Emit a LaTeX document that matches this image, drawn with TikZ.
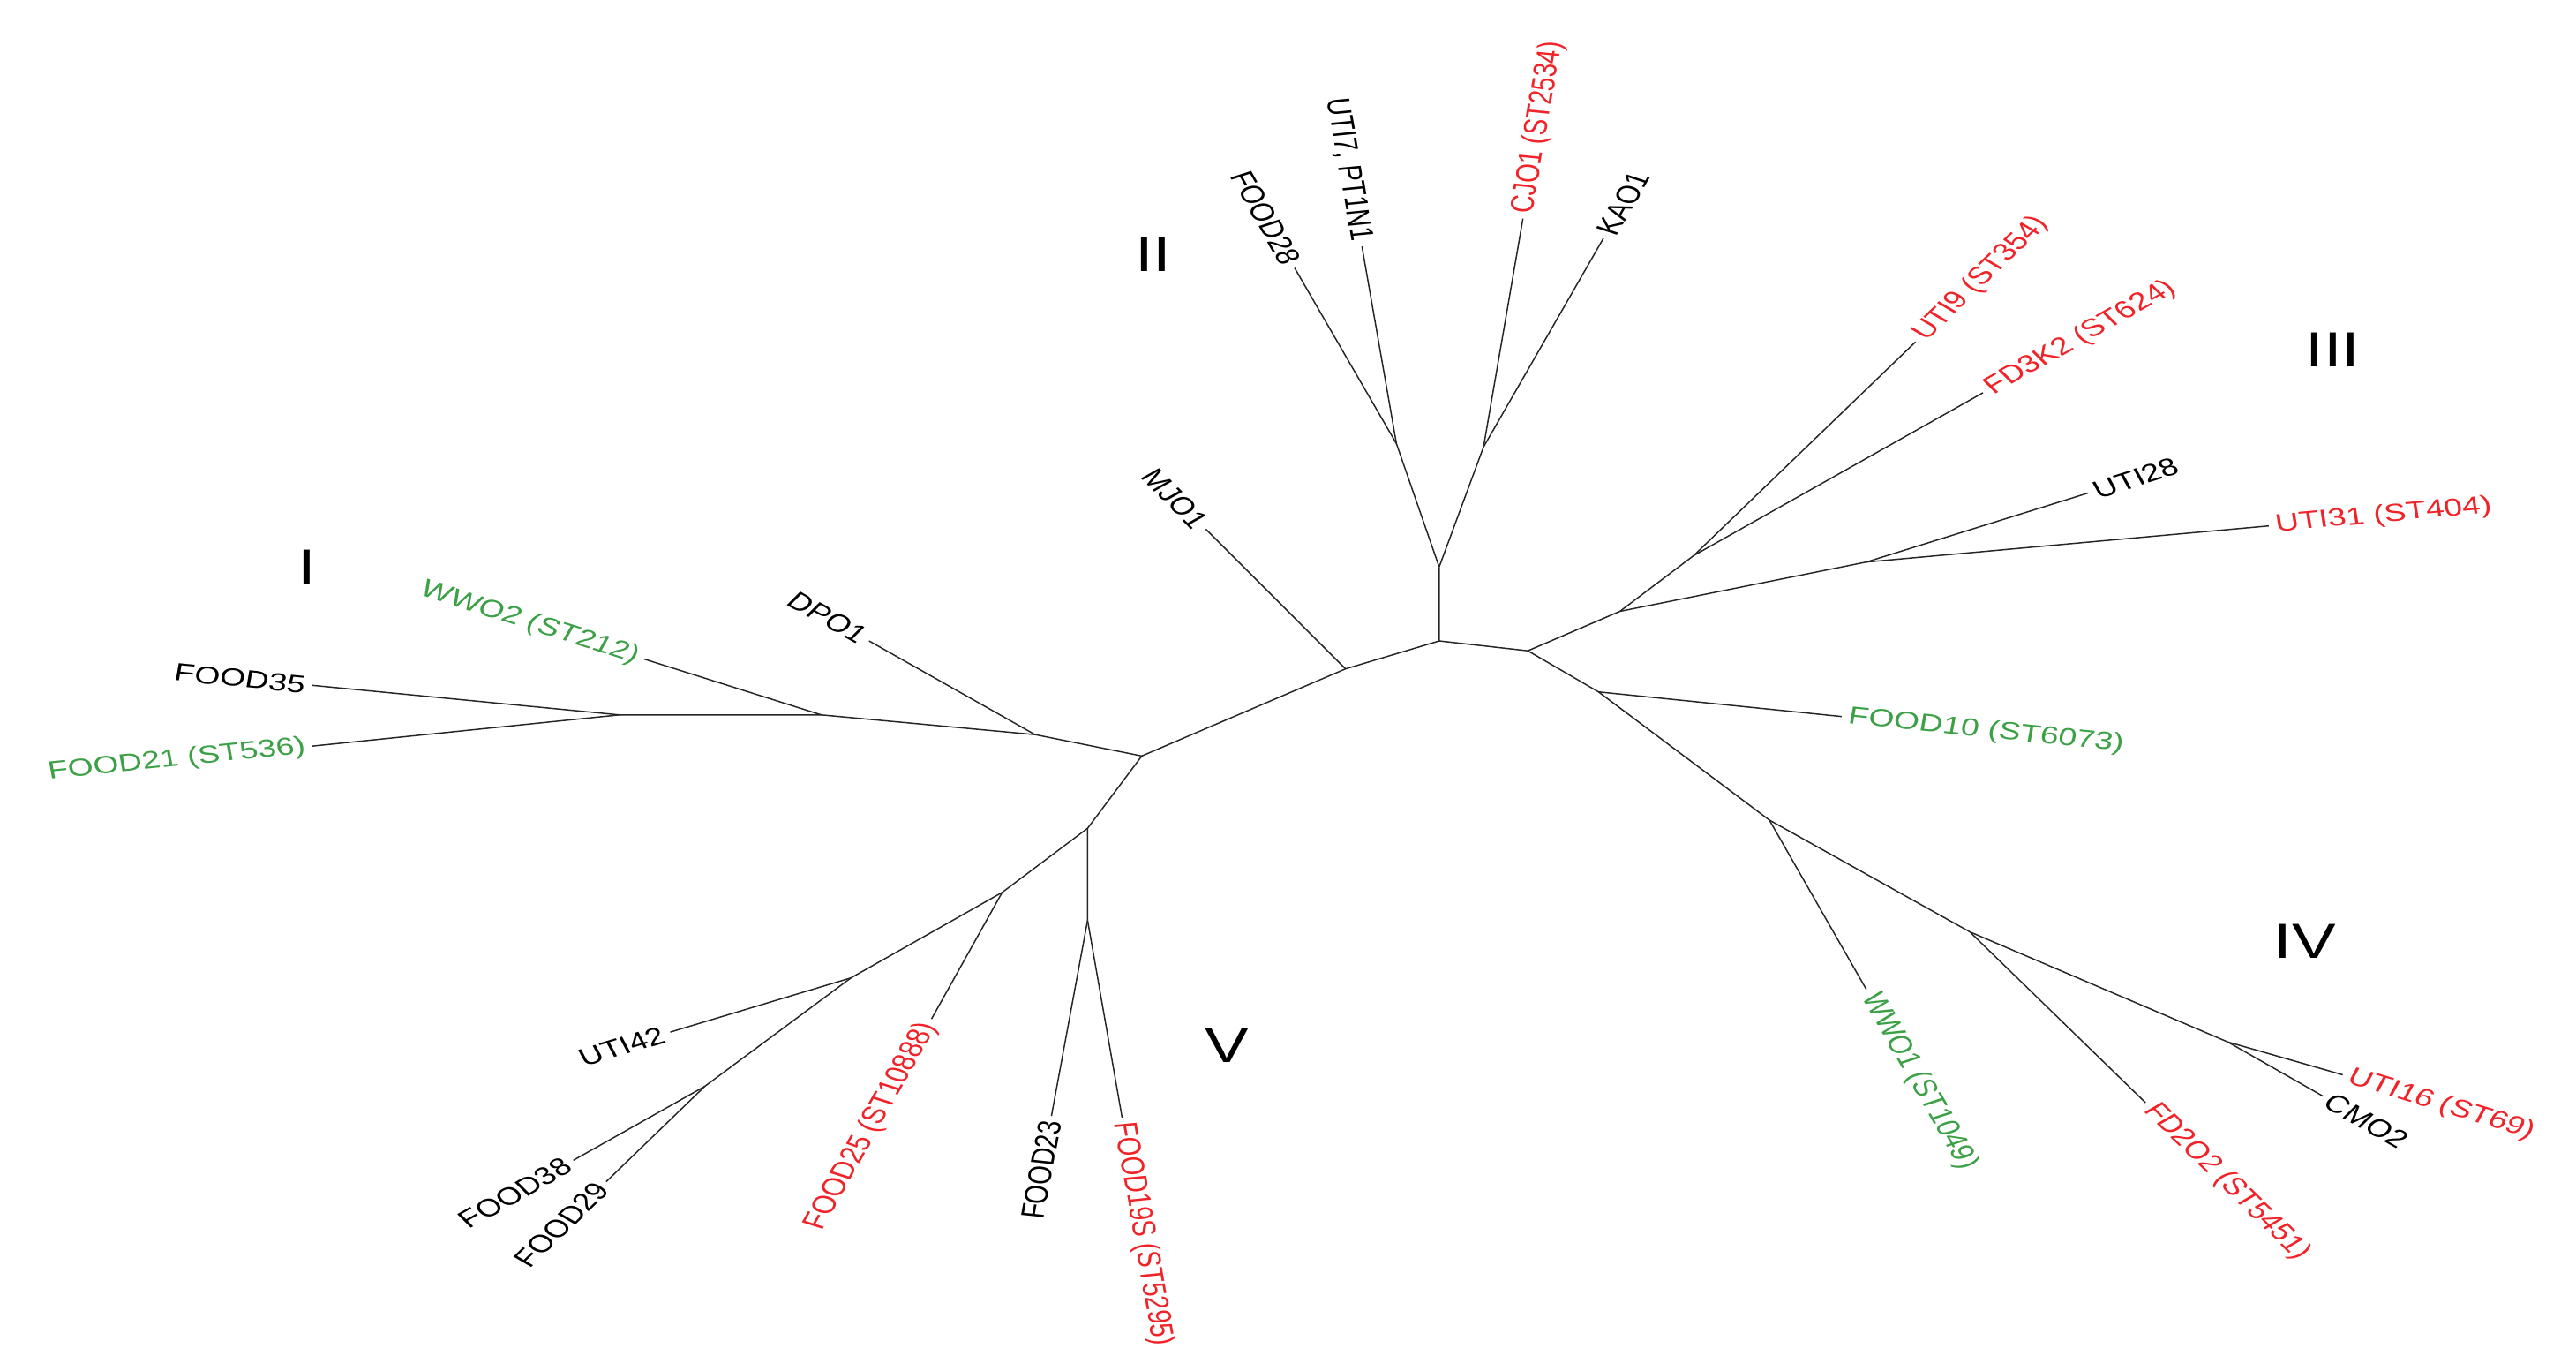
\documentclass[tikz,border=0pt]{standalone}
\usepackage{fontspec}
\setmainfont{Liberation Sans}
\definecolor{tred}{RGB}{240,35,40}
\definecolor{tgreen}{RGB}{60,160,70}
\begin{document}
\begin{tikzpicture}[x=1pt,y=-1pt,
  br/.style={line width=0.8pt, draw=black!85},
  lf/.style={inner sep=3pt, font=\fontsize{15}{18}\selectfont, xscale=1.333},
  lfL/.style={lf, anchor=east},
  lfR/.style={lf, anchor=west},
  rn/.style={font=\fontsize{30}{36}\selectfont, xscale=1.333}]
\useasboundingbox (0,0) rectangle (1568,834);
% internal nodes
\coordinate (c0) at (876,390);
\coordinate (c2) at (876,345);
\coordinate (j2a) at (850,270);
\coordinate (j2b) at (903,272);
\coordinate (cR) at (930,396);
\coordinate (j3) at (986,372);
\coordinate (j3a) at (1031,338);
\coordinate (j3b) at (1136,342);
\coordinate (j4) at (973,421);
\coordinate (j4a) at (1077,499);
\coordinate (j4b) at (1199,567);
\coordinate (j4c) at (1356,634);
\coordinate (cL) at (819,407);
\coordinate (jL) at (695,460);
\coordinate (j1) at (630,447);
\coordinate (j1b) at (500,435);
\coordinate (j1c) at (377,435);
\coordinate (j5) at (662,504);
\coordinate (j5a) at (662,560);
\coordinate (j5b) at (610,543);
\coordinate (j5c) at (518,595);
\coordinate (j5d) at (429,661);
% leaves
\coordinate (tFOODxxviii) at (788,163);
\coordinate (tUTIvii) at (829,150);
\coordinate (tCJO) at (927,133);
\coordinate (tKAO) at (976,145);
\coordinate (tMJO) at (734,322);
\coordinate (tUTIix) at (1166,208);
\coordinate (tFDK) at (1207,239);
\coordinate (tUTIxxviii) at (1271,300);
\coordinate (tUTIxxxi) at (1381,320);
\coordinate (tFOODx) at (1121,436);
\coordinate (tWWOi) at (1136,602);
\coordinate (tFDO) at (1306,671);
\coordinate (tUTIxvi) at (1426,654);
\coordinate (tCMO) at (1414,667);
\coordinate (tDPO) at (529,390);
\coordinate (tWWOii) at (392,401);
\coordinate (tFOODxxxv) at (190,417);
\coordinate (tFOODxxi) at (190,454);
\coordinate (tUTIxlii) at (408,628);
\coordinate (tFOODxxv) at (567,620);
\coordinate (tFOODxxiii) at (640,679);
\coordinate (tFOODxix) at (683,680);
\coordinate (tFOODxxxviii) at (349,706);
\coordinate (tFOODxxix) at (369,719);
% branches
\draw[br] (c2) -- (c0) -- (cR) -- (j3);
\draw[br] (c0) -- (cL) -- (jL) -- (j1) -- (j1b) -- (j1c);
\draw[br] (c2) -- (j2a); \draw[br] (c2) -- (j2b);
\draw[br] (j2a) -- (tFOODxxviii); \draw[br] (j2a) -- (tUTIvii);
\draw[br] (j2b) -- (tCJO); \draw[br] (j2b) -- (tKAO);
\draw[br] (cL) -- (tMJO);
\draw[br] (j3) -- (j3a); \draw[br] (j3) -- (j3b);
\draw[br] (j3a) -- (tUTIix); \draw[br] (j3a) -- (tFDK);
\draw[br] (j3b) -- (tUTIxxviii); \draw[br] (j3b) -- (tUTIxxxi);
\draw[br] (cR) -- (j4) -- (j4a) -- (j4b) -- (j4c);
\draw[br] (j4) -- (tFOODx);
\draw[br] (j4a) -- (tWWOi);
\draw[br] (j4b) -- (tFDO);
\draw[br] (j4c) -- (tUTIxvi); \draw[br] (j4c) -- (tCMO);
\draw[br] (j1) -- (tDPO);
\draw[br] (j1b) -- (tWWOii);
\draw[br] (j1c) -- (tFOODxxxv); \draw[br] (j1c) -- (tFOODxxi);
\draw[br] (jL) -- (j5) -- (j5a);
\draw[br] (j5) -- (j5b) -- (j5c) -- (j5d);
\draw[br] (j5a) -- (tFOODxxiii); \draw[br] (j5a) -- (tFOODxix);
\draw[br] (j5b) -- (tFOODxxv);
\draw[br] (j5c) -- (tUTIxlii);
\draw[br] (j5d) -- (tFOODxxxviii); \draw[br] (j5d) -- (tFOODxxix);
% labels
\node[lfL, rotate=-66.8] (nFOODxxviii) at (tFOODxxviii) {FOOD28};
\node[lfL, rotate=-82.5] (nUTIvii) at (tUTIvii) {UTI7, PT1N1};
\node[lfR, rotate=82.6, text=tred] (nCJO) at (tCJO) {CJO1 (ST2534)};
\node[lfR, rotate=66.7] (nKAO) at (tKAO) {KAO1};
\node[lfL, rotate=-53.1] (nMJO) at (tMJO) {MJO1};
\node[lfR, rotate=52.1, text=tred] (nUTIix) at (tUTIix) {UTI9 (ST354)};
\node[lfR, rotate=36.9, text=tred] (nFDK) at (tFDK) {FD3K2 (ST624)};
\node[lfR, rotate=22.5] (nUTIxxviii) at (tUTIxxviii) {UTI28};
\node[lfR, rotate=6.8, text=tred] (nUTIxxxi) at (tUTIxxxi) {UTI31 (ST404)};
\node[lfR, rotate=-7.7, text=tgreen] (nFOODx) at (tFOODx) {FOOD10 (ST6073)};
\node[lfR, rotate=-66.7, text=tgreen] (nWWOi) at (tWWOi) {WWO1 (ST1049)};
\node[lfR, rotate=-52.3, text=tred] (nFDO) at (tFDO) {FD2O2 (ST5451)};
\node[lfR, rotate=-22, text=tred] (nUTIxvi) at (tUTIxvi) {UTI16 (ST69)};
\node[lfR, rotate=-37.2] (nCMO) at (tCMO) {CMO2};
\node[lfL, rotate=-36.9] (nDPO) at (tDPO) {DPO1};
\node[lfL, rotate=-22.8, text=tgreen] (nWWOii) at (tWWOii) {WWO2 (ST212)};
\node[lfL, rotate=-7.3] (nFOODxxxv) at (tFOODxxxv) {FOOD35};
\node[lfL, rotate=7.7, text=tgreen] (nFOODxxi) at (tFOODxxi) {FOOD21 (ST536)};
\node[lfL, rotate=21.8] (nUTIxlii) at (tUTIxlii) {UTI42};
\node[lfL, rotate=67.2, text=tred] (nFOODxxv) at (tFOODxxv) {FOOD25 (ST10888)};
\node[lfL, rotate=82.1] (nFOODxxiii) at (tFOODxxiii) {FOOD23};
\node[lfR, rotate=-82.5, text=tred] (nFOODxix) at (tFOODxix) {FOOD19S (ST5295)};
\node[lfL, rotate=36.9] (nFOODxxxviii) at (tFOODxxxviii) {FOOD38};
\node[lfL, rotate=52.2] (nFOODxxix) at (tFOODxxix) {FOOD29};
% clade numerals
\node[rn] (rI) at (187,345) {I};
\node[rn] (rII) at (702,155) {II};
\node[rn] (rIII) at (1420,213) {III};
\node[rn] (rIV) at (1403,573) {IV};
\node[rn] (rV) at (747,636) {V};
\end{tikzpicture}
\end{document}
